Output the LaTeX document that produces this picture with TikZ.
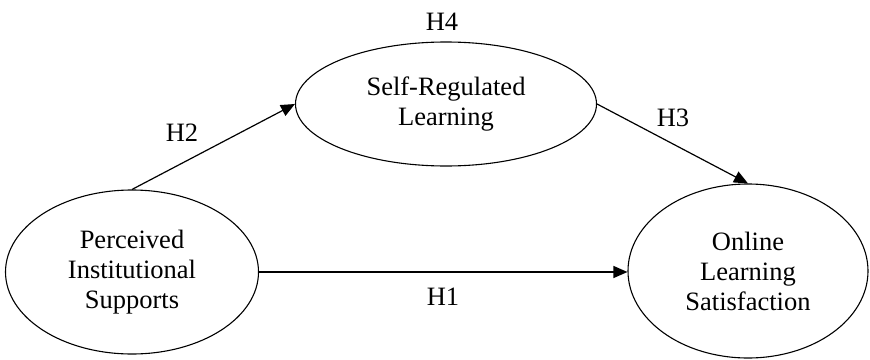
\documentclass[tikz,border=0pt]{standalone}
\usepackage{fontspec}
\setmainfont{Liberation Serif}
\usetikzlibrary{shapes.geometric,arrows.meta}
\begin{document}
\begin{tikzpicture}[x=1pt,y=-1pt,
  construct/.style={draw,ellipse,line width=1.1pt,inner sep=0pt,align=center,
    font=\fontsize{26.5}{30}\selectfont},
  path/.style={line width=1.2pt,-{Triangle[length=14pt,width=12pt]}},
  hlabel/.style={font=\fontsize{26.5}{30}\selectfont}]
\useasboundingbox (0,0) rectangle (870,359);
\node[construct,minimum width=253pt,minimum height=164pt] (pis) at (132,272)
  {Perceived\\Institutional\\Supports};
\node[construct,minimum width=301pt,minimum height=124pt] (srl) at (446,104)
  {Self-Regulated\\Learning};
\node[construct,minimum width=240pt,minimum height=174pt] (ols) at (748,271)
  {Online\\Learning\\Satisfaction};
\draw[path] (pis.east |- 0,272) -- (ols.west |- 0,272);
\draw[path] (pis.north) -- (srl.west);
\draw[path] (srl.east) -- (ols.north);
\node[hlabel] (h1) at (443,297) {H1};
\node[hlabel] (h2) at (182,133) {H2};
\node[hlabel] (h3) at (673,118) {H3};
\node[hlabel] (h4) at (442,22) {H4};
\end{tikzpicture}
\end{document}
